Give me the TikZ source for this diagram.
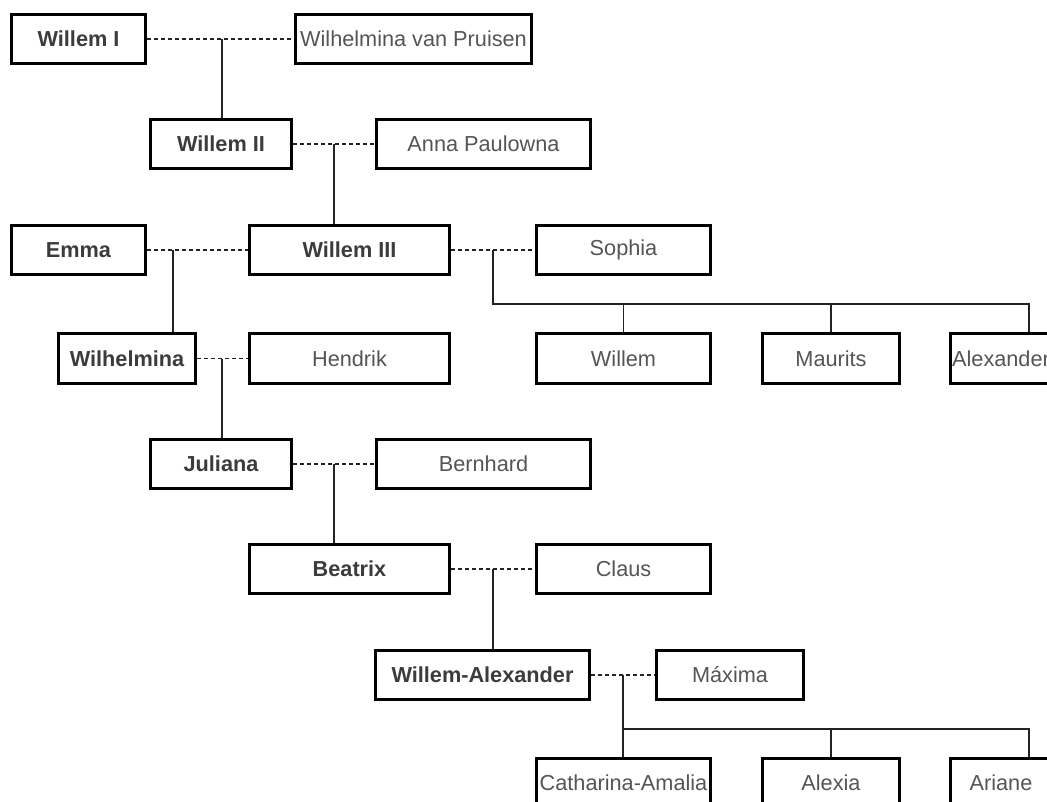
\documentclass[tikz,border=0pt]{standalone}
\usepackage{fontspec}
\setmainfont{Liberation Sans}
\definecolor{txt}{RGB}{85,85,85}
\definecolor{txtb}{RGB}{60,60,60}
\definecolor{lin}{RGB}{35,35,35}
\begin{document}
\begin{tikzpicture}[x=1pt,y=-1pt,
  pbox/.style={draw=black, line width=2.7pt, fill=white, inner sep=0pt,
    minimum height=49.3pt, text=txt, font=\fontsize{21.7}{26}\selectfont},
  roy/.style={pbox, text=txtb, font=\fontsize{21.7}{26}\selectfont\bfseries},
  marr/.style={draw=lin, line width=1.5pt, dash pattern=on 4pt off 3pt},
  desc/.style={draw=lin, line width=1.5pt}]
\useasboundingbox (0,0) rectangle (1047,802);
% row 1
\node[roy, minimum width=134.3pt] (w1) at (78.5,39) {Willem I};
\node[pbox, minimum width=236.3pt] (pru) at (413.5,39) {Wilhelmina van Pruisen};
% row 2
\node[roy, minimum width=141.3pt] (w2) at (221,144) {Willem II};
\node[pbox, minimum width=214.3pt] (anna) at (483.5,144) {Anna Paulowna};
% row 3
\node[roy, minimum width=134.3pt] (emma) at (78.5,250) {Emma};
\node[roy, minimum width=200.3pt] (w3) at (349.5,250) {Willem III};
\node[pbox, minimum width=174.3pt] (sophia) at (623.5,250) {Sophia};
% row 4
\node[roy, minimum width=137.3pt] (wilh) at (127,358.5) {Wilhelmina};
\node[pbox, minimum width=200.3pt] (hendrik) at (349.5,358.5) {Hendrik};
\node[pbox, minimum width=174.3pt] (willem) at (623.5,358.5) {Willem};
\node[pbox, minimum width=137.3pt] (maurits) at (831,358.5) {Maurits};
\node[pbox, minimum width=101.3pt] (alexander) at (1001,358.5) {Alexander};
% row 5
\node[roy, minimum width=141.3pt] (juliana) at (221,464) {Juliana};
\node[pbox, minimum width=214.3pt] (bernhard) at (483.5,464) {Bernhard};
% row 6
\node[roy, minimum width=200.3pt] (beatrix) at (349.5,569) {Beatrix};
\node[pbox, minimum width=174.3pt] (claus) at (623.5,569) {Claus};
% row 7
\node[roy, minimum width=214.3pt] (wa) at (482.5,675) {Willem-Alexander};
\node[pbox, minimum width=147.3pt] (maxima) at (730,675) {Máxima};
% row 8
\node[pbox, minimum width=174.3pt] (ca) at (623.5,783) {Catharina-Amalia};
\node[pbox, minimum width=137.3pt] (alexia) at (831,783) {Alexia};
\node[pbox, minimum width=101.3pt] (ariane) at (1001,783) {Ariane};
% junctions
\coordinate (j1) at (222,39);
\coordinate (j2) at (334,144);
\coordinate (j3) at (173,250);
\coordinate (j4) at (493,250);
\coordinate (j5) at (222,358.5);
\coordinate (j6) at (334,464);
\coordinate (j7) at (493,569);
\coordinate (j8) at (623,675);
\coordinate (b1) at (1029,304);
\coordinate (b2) at (1029,729);
% marriages
\draw[marr] (w1.east) -- (pru.west);
\draw[marr] (w2.east) -- (anna.west);
\draw[marr] (emma.east) -- (w3.west);
\draw[marr] (w3.east) -- (sophia.west);
\draw[marr] (wilh.east) -- (hendrik.west);
\draw[marr] (juliana.east) -- (bernhard.west);
\draw[marr] (beatrix.east) -- (claus.west);
\draw[marr] (wa.east) -- (maxima.west);
% descent
\draw[desc] (j1) -- (j1 |- w2.north);
\draw[desc] (j2) -- (j2 |- w3.north);
\draw[desc] (j3) -- (j3 |- wilh.north);
\draw[desc] (j4) |- (b1) -- (b1 |- alexander.north);
\draw[desc] (willem.north |- b1) -- (willem.north);
\draw[desc] (maurits.north |- b1) -- (maurits.north);
\draw[desc] (j5) -- (j5 |- juliana.north);
\draw[desc] (j6) -- (j6 |- beatrix.north);
\draw[desc] (j7) -- (j7 |- wa.north);
\draw[desc] (j8) -- (j8 |- ca.north);
\draw[desc] (j8 |- b2) -- (b2) -- (b2 |- ariane.north);
\draw[desc] (alexia.north |- b2) -- (alexia.north);
\end{tikzpicture}
\end{document}
